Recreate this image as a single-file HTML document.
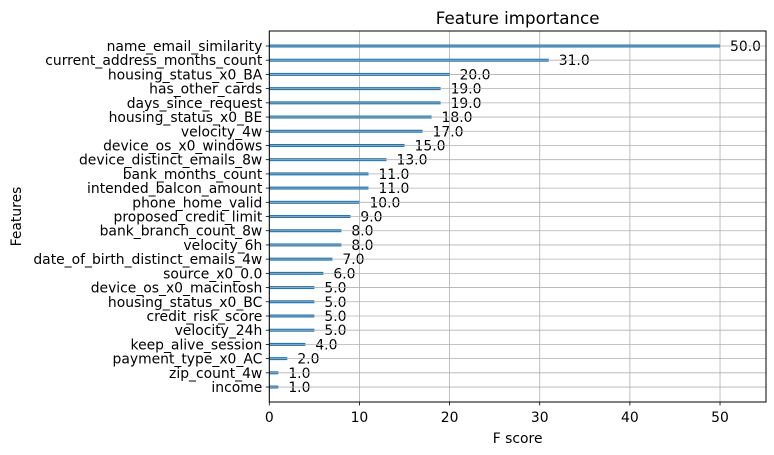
<!DOCTYPE html>
<html><head><meta charset="utf-8"><style>
body{margin:0;background:#fff;}
svg{display:block;font-family:"DejaVu Sans","Liberation Sans",sans-serif;}
</style></head><body>
<svg id="chart" width="774" height="455" viewBox="0 0 774 455" xmlns="http://www.w3.org/2000/svg">
<g id="grid"></g><g id="bars"></g><g id="axes"></g>
</svg>
<script>
const features = ["name_email_similarity","current_address_months_count","housing_status_x0_BA","has_other_cards","days_since_request","housing_status_x0_BE","velocity_4w","device_os_x0_windows","device_distinct_emails_8w","bank_months_count","intended_balcon_amount","phone_home_valid","proposed_credit_limit","bank_branch_count_8w","velocity_6h","date_of_birth_distinct_emails_4w","source_x0_0.0","device_os_x0_macintosh","housing_status_x0_BC","credit_risk_score","velocity_24h","keep_alive_session","payment_type_x0_AC","zip_count_4w","income"];
const scores = [50,31,20,19,19,18,17,15,13,11,11,10,9,8,8,7,6,5,5,5,5,4,2,1,1];
const xTicks = [0,10,20,30,40,50];
const NS="http://www.w3.org/2000/svg";
const L=269.3,R=766,T=31,B=402,xMax=55.1,FS='13.9';
const x=v=>L+(v/xMax)*(R-L);
const y=i=>46+i*14.21;
function mk(tag,attrs,parent,text){const e=document.createElementNS(NS,tag);for(const k in attrs)e.setAttribute(k,attrs[k]);if(text!==undefined)e.textContent=text;parent.appendChild(e);return e;}
const grid=document.getElementById('grid'),bars=document.getElementById('bars'),axes=document.getElementById('axes');
features.forEach((f,i)=>{
  const b=mk('rect',{x:L,y:y(i)-1.5,width:x(scores[i])-L,height:3,fill:'#1f77b4'},bars);
  
  
  const lbl=mk('text',{x:x(scores[i])+10,y:y(i)+5,'font-size':FS,fill:'#000'},bars,scores[i].toFixed(1));
  
  
  const g=mk('line',{x1:L,x2:R,y1:y(i),y2:y(i),stroke:'#b0b0b0','stroke-width':'0.8'},bars);
  
  
  mk('line',{x1:L-3.5,x2:L,y1:y(i),y2:y(i),stroke:'#000','stroke-width':'0.8'},axes);
  const t=mk('text',{x:L-7,y:y(i)+5,'font-size':FS,'text-anchor':'end',fill:'#000'},axes,f);
  
  
});
xTicks.forEach(v=>{
  const g=mk('line',{x1:x(v),x2:x(v),y1:T,y2:B,stroke:'#b0b0b0','stroke-width':'0.8'},grid);
  
  
  mk('line',{x1:x(v),x2:x(v),y1:B,y2:B+3.5,stroke:'#000','stroke-width':'0.8'},axes);
  const t=mk('text',{x:x(v),y:B+20,'font-size':FS,'text-anchor':'middle',fill:'#000'},axes,String(v));
  
  
});
const frame=mk('rect',{x:L,y:T,width:R-L,height:B-T,fill:'none',stroke:'#000','stroke-width':'1'},axes);


const title=mk('text',{x:(L+R)/2,y:T-7,'font-size':'16.7','text-anchor':'middle',fill:'#000'},axes,'Feature importance');


const xt=mk('text',{x:(L+R)/2,y:B+41,'font-size':FS,'text-anchor':'middle',fill:'#000'},axes,'F score');


const yt=mk('text',{x:0,y:0,'font-size':FS,'text-anchor':'middle',fill:'#000',transform:'translate(21,'+((T+B)/2)+') rotate(-90)'},axes,'Features');


</script>
</body></html>
